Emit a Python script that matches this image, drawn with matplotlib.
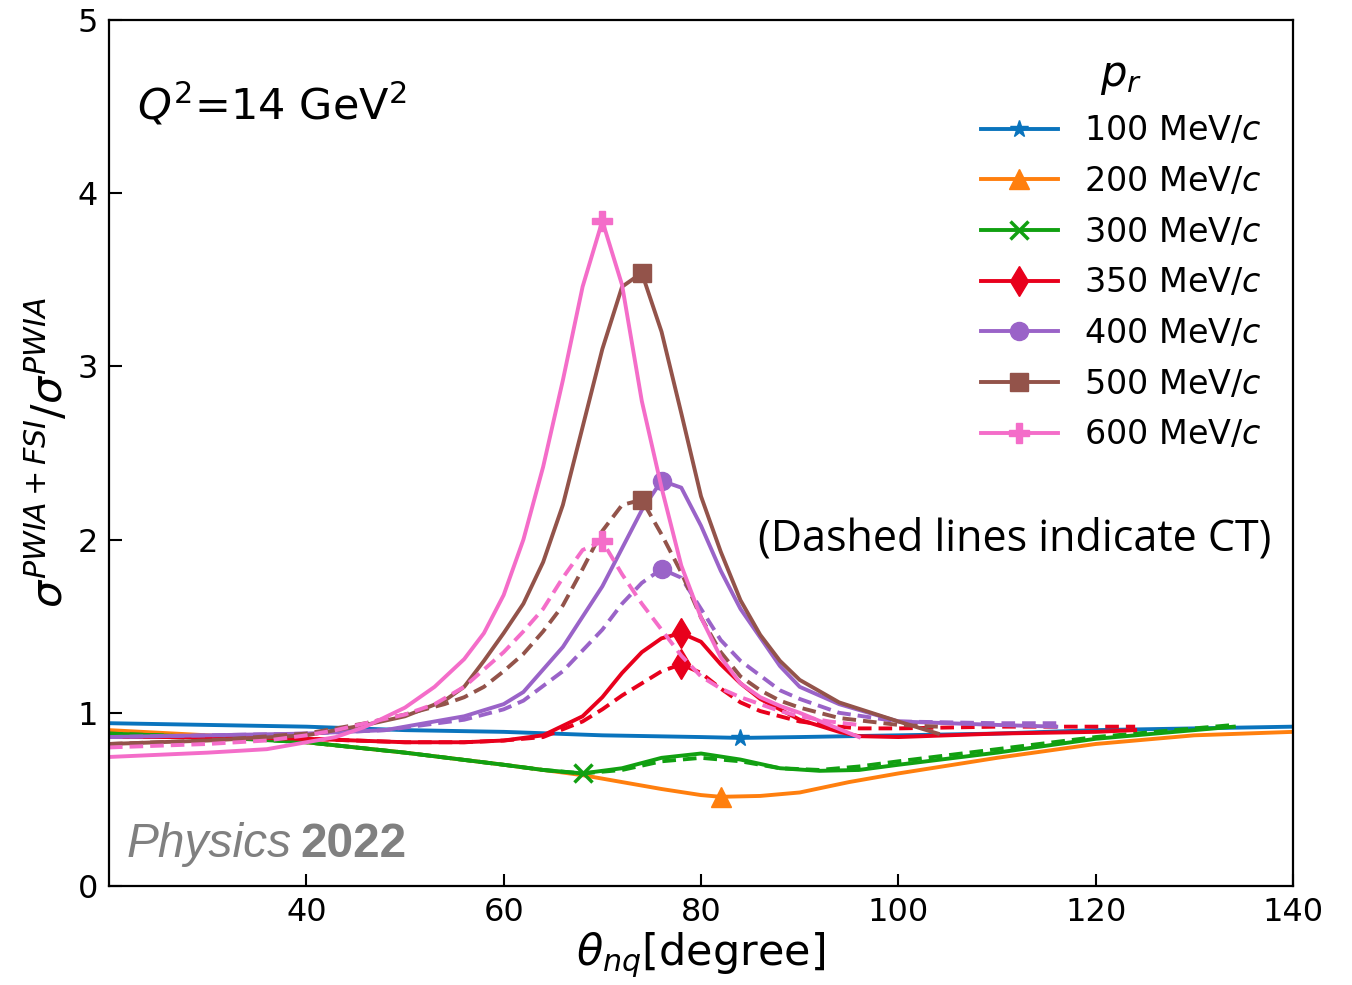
import matplotlib

matplotlib.use("Agg")
import matplotlib.pyplot as plt

# theta_nq [degree] and sigma ratio
theta_100 = [20, 30, 40, 50, 60, 70, 80, 84, 90, 100, 110, 120, 130, 140]
ratio_100 = [0.94, 0.93, 0.92, 0.90, 0.89, 0.87, 0.86, 0.855, 0.86, 0.87, 0.88, 0.90, 0.91, 0.92]

theta_200 = [20, 30, 40, 50, 60, 64, 68, 72, 76, 80, 82, 86, 90, 95, 100, 110, 120, 130, 140]
ratio_200 = [0.90, 0.87, 0.83, 0.77, 0.70, 0.67, 0.64, 0.60, 0.56, 0.525, 0.515, 0.52, 0.54,
             0.60, 0.65, 0.74, 0.82, 0.87, 0.89]

theta_300 = [20, 30, 40, 50, 60, 64, 68, 72, 76, 80, 84, 88, 92, 96, 100, 110, 120, 130, 134]
ratio_300 = [0.88, 0.86, 0.83, 0.77, 0.70, 0.67, 0.65, 0.68, 0.74, 0.765, 0.73, 0.68, 0.665,
             0.67, 0.70, 0.77, 0.85, 0.90, 0.92]
ratio_300_ct = [0.88, 0.86, 0.83, 0.77, 0.70, 0.67, 0.65, 0.67, 0.72, 0.74, 0.72, 0.68, 0.67,
                0.69, 0.72, 0.79, 0.86, 0.91, 0.93]

theta_350 = [20, 30, 40, 50, 56, 60, 64, 68, 70, 72, 74, 76, 78, 80, 82, 84, 86, 90, 94, 96,
             100, 110, 120, 124]
ratio_350 = [0.86, 0.86, 0.85, 0.83, 0.83, 0.84, 0.87, 0.98, 1.09, 1.23, 1.35, 1.43, 1.46, 1.41,
             1.28, 1.17, 1.08, 0.96, 0.89, 0.865, 0.86, 0.88, 0.89, 0.90]
ratio_350_ct = [0.86, 0.86, 0.85, 0.83, 0.83, 0.84, 0.86, 0.95, 1.02, 1.10, 1.17, 1.24, 1.28,
                1.23, 1.14, 1.06, 1.01, 0.95, 0.92, 0.91, 0.91, 0.92, 0.92, 0.92]

theta_400 = [20, 30, 40, 48, 56, 60, 62, 66, 70, 72, 74, 76, 78, 80, 82, 84, 88, 90, 94, 100,
             110, 116]
ratio_400 = [0.86, 0.87, 0.88, 0.90, 0.98, 1.05, 1.12, 1.38, 1.73, 1.95, 2.17, 2.34, 2.30, 2.08,
             1.82, 1.60, 1.27, 1.15, 1.05, 0.95, 0.93, 0.92]
ratio_400_ct = [0.86, 0.87, 0.88, 0.90, 0.96, 1.02, 1.07, 1.24, 1.48, 1.63, 1.75, 1.83, 1.78,
                1.60, 1.42, 1.30, 1.13, 1.08, 1.00, 0.95, 0.94, 0.94]

theta_500 = [20, 30, 40, 46, 50, 54, 56, 58, 60, 62, 64, 66, 68, 70, 72, 74, 76, 78, 80, 82,
             84, 86, 88, 90, 94, 100, 104]
ratio_500 = [0.82, 0.84, 0.87, 0.93, 0.98, 1.07, 1.15, 1.30, 1.46, 1.63, 1.87, 2.20, 2.65, 3.10,
             3.46, 3.54, 3.20, 2.73, 2.25, 1.93, 1.65, 1.45, 1.30, 1.19, 1.06, 0.95, 0.88]
ratio_500_ct = [0.82, 0.84, 0.88, 0.94, 0.99, 1.05, 1.09, 1.15, 1.24, 1.34, 1.47, 1.62, 1.83,
                2.05, 2.20, 2.23, 2.03, 1.81, 1.55, 1.35, 1.21, 1.13, 1.07, 1.03, 0.97, 0.93, 0.92]

theta_600 = [20, 30, 36, 40, 43, 46, 50, 53, 56, 58, 60, 62, 64, 66, 68, 70, 72, 74, 76, 78,
             80, 82, 84, 86, 88, 90, 93, 96]
ratio_600 = [0.745, 0.77, 0.79, 0.83, 0.86, 0.92, 1.03, 1.15, 1.31, 1.46, 1.68, 2.00, 2.42, 2.92,
             3.46, 3.84, 3.47, 2.80, 2.30, 1.85, 1.55, 1.32, 1.17, 1.09, 1.04, 1.00, 0.93, 0.86]
ratio_600_ct = [0.80, 0.82, 0.84, 0.87, 0.90, 0.94, 0.99, 1.05, 1.15, 1.25, 1.35, 1.47, 1.60,
                1.78, 1.94, 1.99, 1.80, 1.63, 1.48, 1.33, 1.21, 1.14, 1.09, 1.05, 1.01, 0.98,
                0.95, 0.93]

labels = ["100 MeV/$c$", "200 MeV/$c$", "300 MeV/$c$", "350 MeV/$c$",
          "400 MeV/$c$", "500 MeV/$c$", "600 MeV/$c$"]
marker_theta = [84, 82, 68, 78, 76, 74, 70]

colors = ["#0a74bd", "#ff7f0e", "#11a011", "#e8001c", "#9a63c8", "#93534a", "#f46dc9"]
markers = ["*", "^", "x", "d", "o", "s", "P"]
sizes = [13, 14, 13, 15, 13, 13, 14]

series = [
    (theta_100, ratio_100, None),
    (theta_200, ratio_200, None),
    (theta_300, ratio_300, ratio_300_ct),
    (theta_350, ratio_350, ratio_350_ct),
    (theta_400, ratio_400, ratio_400_ct),
    (theta_500, ratio_500, ratio_500_ct),
    (theta_600, ratio_600, ratio_600_ct),
]

fig = plt.figure(figsize=(13.52, 9.85), dpi=100)
ax = fig.add_axes([0.0806, 0.1005, 0.8758, 0.8792])

handles = []
for (th, r, r_ct), lab, mth, c, m, ms in zip(series, labels, marker_theta, colors, markers, sizes):
    idx = th.index(mth)
    mew = 2.5 if m == "x" else 1
    (ln,) = ax.plot(th, r, color=c, lw=2.8, marker=m, ms=ms, mew=mew, markevery=[idx], label=lab)
    handles.append(ln)
    if r_ct is not None:
        ax.plot(th, r_ct, color=c, lw=2.8, ls=(0, (3.5, 1.8)), marker=m, ms=ms, mew=mew,
                markevery=[idx] if m != "x" else [])

ax.set_xlim(20, 140)
ax.set_ylim(0, 5)
ax.set_xticks([40, 60, 80, 100, 120, 140])
ax.set_yticks([0, 1, 2, 3, 4, 5])
ax.tick_params(direction="in", length=9, width=1.5, labelsize=23, pad=8)
for sp in ax.spines.values():
    sp.set_linewidth(1.6)

ax.set_xlabel(r"$\theta_{nq}$[degree]", fontsize=31, labelpad=2)
ax.set_ylabel(r"$\sigma^{PWIA+FSI}/\sigma^{PWIA}$", fontsize=31, labelpad=4)

ax.text(0.024, 0.902, r"$Q^2$=14 GeV$^2$", transform=ax.transAxes, fontsize=31,
        va="center", ha="left")
ax.text(0.765, 0.40, "(Dashed lines indicate CT)", transform=ax.transAxes, fontsize=31,
        family="Open Sans", va="center", ha="center")
ax.text(0.015, 0.022, "Physics", transform=ax.transAxes, fontsize=34.5, color="#808080",
        family="Liberation Sans", style="italic", va="bottom", ha="left")
ax.text(0.162, 0.022, "2022", transform=ax.transAxes, fontsize=34.5, color="#808080",
        family="Liberation Sans", weight="bold", va="bottom", ha="left")

leg = ax.legend(handles=handles, title=r"$p_r$", loc="upper right", bbox_to_anchor=(0.999, 0.997),
                frameon=False, fontsize=24, title_fontsize=30, handlelength=2.3,
                labelspacing=0.53, numpoints=1)

fig.savefig("out.png", dpi=100)
